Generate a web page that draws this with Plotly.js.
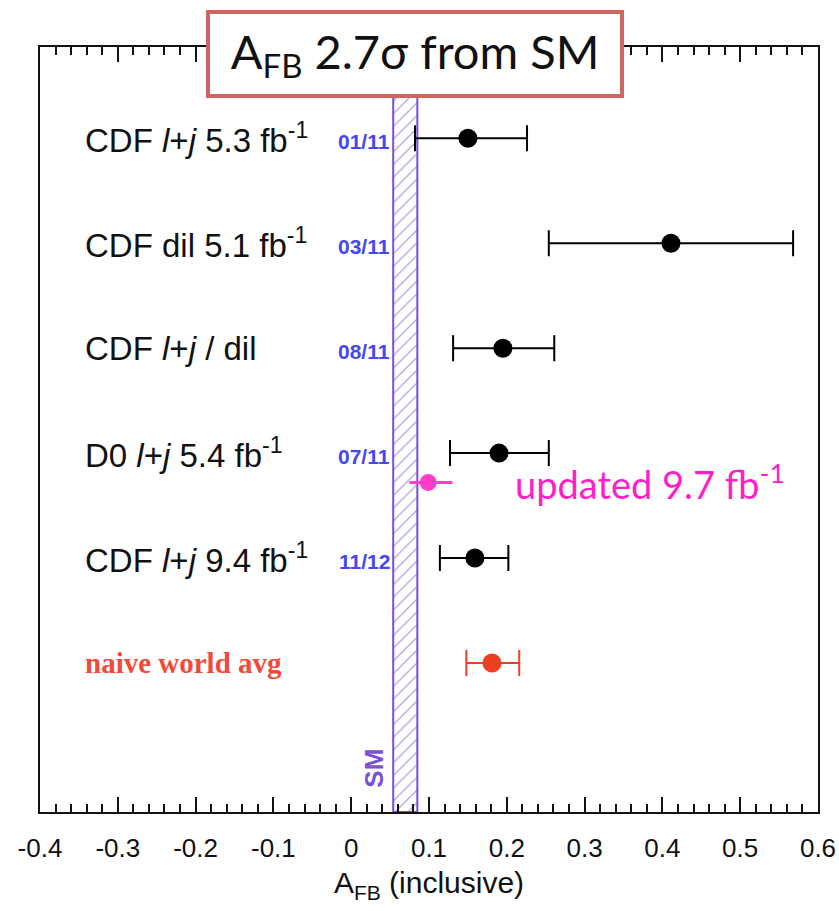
<!DOCTYPE html>
<html>
<head>
<meta charset="utf-8">
<script src="https://cdn.plot.ly/plotly-3.0.1.min.js"></script>
<style>html,body{margin:0;padding:0;background:#fff;}#chart{width:839px;height:911px;}</style>
</head>
<body>
<div id="chart"></div>
<script>
// ---- data ----
const rowLabels = [
  'CDF <i>l</i>+<i>j</i> 5.3 fb<sup>-1</sup>',
  'CDF dil 5.1 fb<sup>-1</sup>',
  'CDF <i>l</i>+<i>j</i> / dil',
  'D0 <i>l</i>+<i>j</i> 5.4 fb<sup>-1</sup>',
  'CDF <i>l</i>+<i>j</i> 9.4 fb<sup>-1</sup>'
];
const rowDates = ['01/11', '03/11', '08/11', '07/11', '11/12'];
const rowY = [6, 5, 4, 3, 2];
const afbValues = [0.150, 0.411, 0.195, 0.190, 0.159];
const afbErrMinus = [0.068, 0.157, 0.064, 0.063, 0.045];
const afbErrPlus = [0.076, 0.157, 0.066, 0.064, 0.043];

const avgLabel = 'naive world avg';
const avgY = [1];
const avgValue = [0.181];
const avgErrMinus = [0.033];
const avgErrPlus = [0.035];

const updatedLabel = 'updated 9.7 fb<sup>-1</sup>';
const updatedY = [2.72];
const updatedValue = [0.099];
const updatedErrMinus = [0.024];
const updatedErrPlus = [0.031];

const smLow = 0.054, smHigh = 0.085;
const yMin = -0.42, yMax = 6.87;
const xTickVals = [-0.4, -0.3, -0.2, -0.1, 0, 0.1, 0.2, 0.3, 0.4, 0.5, 0.6];
const xTickText = ['-0.4', '-0.3', '-0.2', '-0.1', '0', '0.1', '0.2', '0.3', '0.4', '0.5', '0.6'];

const titleText = 'A<sub>FB</sub> 2.7σ from SM';
const xTitle = 'A<sub>FB</sub> (inclusive)';

// ---- traces ----
const smBand = {
  type: 'scatter', mode: 'lines',
  x: [smLow, smHigh, smHigh, smLow, smLow],
  y: [yMin, yMin, yMax, yMax, yMin],
  fill: 'toself',
  fillcolor: 'rgba(255,255,255,0)',
  fillpattern: {shape: '/', fgcolor: '#a68be6', bgcolor: 'white', size: 9, solidity: 0.12},
  line: {color: '#7b4fd6', width: 2},
  hoverinfo: 'skip', showlegend: false
};

const measurements = {
  type: 'scatter', mode: 'markers',
  x: afbValues, y: rowY,
  marker: {color: 'black', size: 19},
  error_x: {type: 'data', symmetric: false, array: afbErrPlus, arrayminus: afbErrMinus,
            color: 'black', thickness: 2, width: 13},
  showlegend: false
};

const average = {
  type: 'scatter', mode: 'markers',
  x: avgValue, y: avgY,
  marker: {color: '#ee3f22', size: 19},
  error_x: {type: 'data', symmetric: false, array: avgErrPlus, arrayminus: avgErrMinus,
            color: '#ee3f22', thickness: 2, width: 13},
  showlegend: false
};

const updated = {
  type: 'scatter', mode: 'markers',
  x: updatedValue, y: updatedY,
  marker: {color: '#ff3dcb', size: 17},
  error_x: {type: 'data', symmetric: false, array: updatedErrPlus, arrayminus: updatedErrMinus,
            color: '#ff3dcb', thickness: 3, width: 0},
  showlegend: false
};

// ---- annotations ----
const annotations = [];
rowLabels.forEach((t, i) => {
  annotations.push({
    xref: 'paper', yref: 'y', x: 0.055, y: rowY[i], xanchor: 'left', yanchor: 'middle',
    text: t, showarrow: false,
    font: {family: 'Liberation Sans, Arial, sans-serif', size: 33, color: '#111'}
  });
  annotations.push({
    xref: 'paper', yref: 'y', x: 0.452, y: rowY[i], xanchor: 'right', yanchor: 'middle',
    yshift: -3,
    text: rowDates[i], showarrow: false,
    font: {family: 'Liberation Sans, Arial, sans-serif', size: 21, color: '#4646f2', weight: 'bold'}
  });
});
annotations.push({
  xref: 'paper', yref: 'y', x: 0.055, y: avgY[0], xanchor: 'left', yanchor: 'middle',
  text: avgLabel, showarrow: false,
  font: {family: 'Liberation Serif, Times New Roman, serif', size: 29, color: '#f04a3a', weight: 'bold'}
});
annotations.push({
  xref: 'paper', yref: 'y', x: 0.608, y: updatedY[0], xanchor: 'left', yanchor: 'middle',
  text: updatedLabel, showarrow: false,
  font: {family: 'Lato, Open Sans, sans-serif', size: 38, color: '#ff1fc8'}
});
annotations.push({
  xref: 'x', yref: 'y', x: 0.029, y: 0.0, xanchor: 'center', yanchor: 'middle',
  text: 'SM', textangle: -90, showarrow: false,
  font: {family: 'Liberation Sans, Arial, sans-serif', size: 26, color: '#7b4fd6', weight: 'bold'}
});
annotations.push({
  xref: 'paper', yref: 'paper', x: 0.4826, y: 0.9915, xanchor: 'center', yanchor: 'middle',
  text: titleText, showarrow: false,
  width: 410, height: 80,
  bgcolor: 'white', bordercolor: '#cf6560', borderwidth: 4, borderpad: 0,
  font: {family: 'Lato, Open Sans, sans-serif', size: 47, color: '#111'}
});

const layout = {
  width: 839, height: 911,
  margin: {l: 40, r: 21, t: 47, b: 99},
  paper_bgcolor: 'white', plot_bgcolor: 'white',
  showlegend: false,
  xaxis: {
    range: [-0.4, 0.6], tickvals: xTickVals, ticktext: xTickText,
    ticks: 'inside', ticklen: 15, tickwidth: 2, tickcolor: '#111',
    minor: {ticks: 'inside', dtick: 0.02, ticklen: 8, tickwidth: 2, tickcolor: '#111'},
    showline: true, linecolor: '#111', linewidth: 2, mirror: 'allticks',
    showgrid: false, zeroline: false,
    tickfont: {family: 'Liberation Sans, Arial, sans-serif', size: 26, color: '#111'},
    ticklabelstandoff: 12,
    title: {text: xTitle, standoff: 10,
            font: {family: 'Liberation Sans, Arial, sans-serif', size: 30, color: '#111'}}
  },
  yaxis: {
    range: [yMin, yMax], showticklabels: false, ticks: '',
    showline: true, linecolor: '#111', linewidth: 2, mirror: true,
    showgrid: false, zeroline: false
  },
  annotations: annotations
};

Plotly.newPlot('chart', [smBand, measurements, average, updated], layout, {displayModeBar: false, staticPlot: true});
</script>
</body>
</html>
